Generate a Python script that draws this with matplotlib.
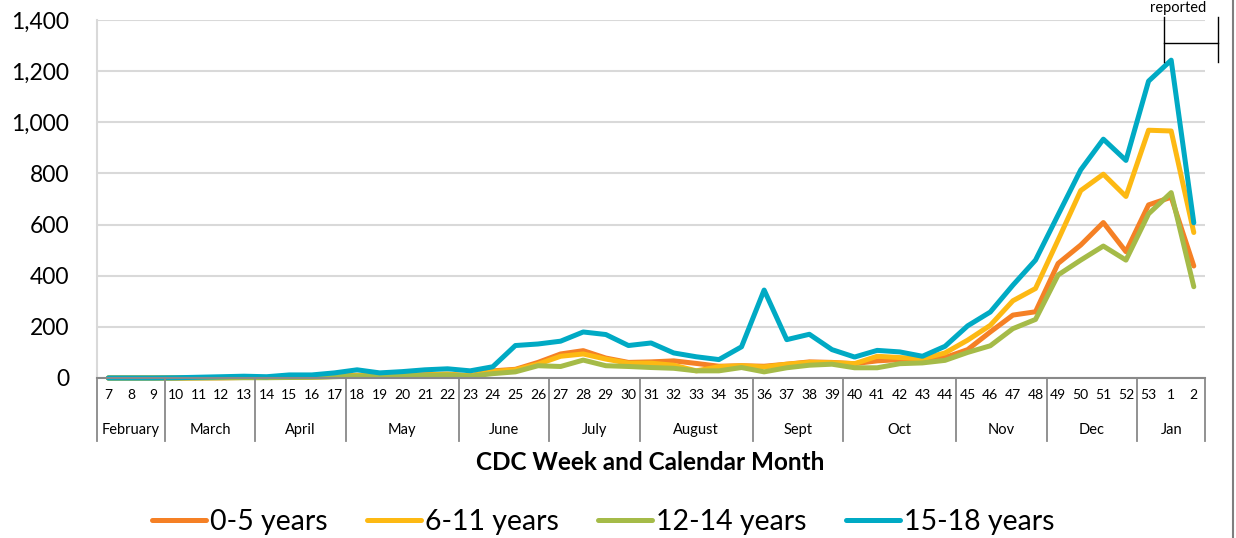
import matplotlib.pyplot as plt
from matplotlib.lines import Line2D
from matplotlib.ticker import FuncFormatter
import matplotlib.transforms as mtransforms

plt.rcParams['font.family'] = ['Lato', 'DejaVu Sans']

weeks = [str(w) for w in range(7, 54)] + ['1', '2']
months = ['February', 'March', 'April', 'May', 'June', 'July', 'August',
          'Sept', 'Oct', 'Nov', 'Dec', 'Jan']
month_len = [3, 4, 4, 5, 4, 4, 5, 4, 5, 4, 4, 3]

age_0_5 = [0, 0, 0, 0, 1, 1, 2, 2, 3, 4, 6, 11, 8, 10, 13, 15, 8, 28, 34, 61,
           94, 107, 78, 61, 63, 67, 57, 46, 48, 46, 54, 63, 61, 56, 67, 72, 75,
           80, 111, 180, 246, 259, 448, 520, 608, 494, 677, 707, 438]
age_6_11 = [0, 0, 0, 0, 1, 1, 2, 2, 3, 4, 6, 10, 8, 10, 12, 15, 8, 25, 32, 54,
            85, 94, 74, 58, 58, 50, 28, 44, 48, 43, 54, 61, 60, 56, 85, 80, 75,
            98, 148, 206, 302, 350, 540, 733, 797, 710, 969, 966, 569]
age_12_14 = [0, 0, 0, 0, 0, 1, 1, 1, 2, 3, 5, 8, 6, 8, 10, 12, 7, 17, 24, 48,
             45, 70, 48, 45, 41, 38, 28, 28, 41, 24, 40, 50, 54, 40, 40, 56, 59,
             69, 100, 126, 193, 229, 403, 461, 516, 461, 642, 725, 357]
age_15_18 = [0, 0, 0, 1, 3, 5, 7, 5, 12, 12, 20, 32, 20, 25, 32, 36, 28, 44, 127,
             133, 144, 180, 170, 127, 137, 98, 83, 72, 122, 344, 150, 171, 111,
             82, 108, 102, 85, 124, 204, 258, 363, 461, 638, 814, 934, 851, 1161,
             1243, 607]

series = [('0-5 years', age_0_5, '#F58025'),
          ('6-11 years', age_6_11, '#FDB913'),
          ('12-14 years', age_12_14, '#A5BB48'),
          ('15-18 years', age_15_18, '#00AAC4')]

fig = plt.figure(figsize=(12.36, 5.38), dpi=100)
ax = fig.add_axes([0.0785, 0.2974, 0.8965, 0.6654])

x = list(range(len(weeks)))
for name, vals, col in series:
    ax.plot(x, vals, color=col, lw=3.6, label=name,
            solid_joinstyle='round', solid_capstyle='round', clip_on=False)

ax.set_xlim(-0.5, len(weeks) - 0.5)
ax.set_ylim(0, 1400)
ax.set_yticks(range(0, 1401, 200))
ax.yaxis.set_major_formatter(FuncFormatter(lambda v, p: f'{int(v):,}'))
ax.tick_params(axis='y', length=0, pad=20, labelsize=16.5)
ax.grid(axis='y', color='#D9D9D9', lw=1.5)
ax.set_axisbelow(True)

ax.set_xticks(x)
ax.set_xticklabels(weeks, fontsize=10)
ax.tick_params(axis='x', length=0, pad=8)

for s in ['top', 'right']:
    ax.spines[s].set_visible(False)
ax.spines['left'].set_color('#D9D9D9')
ax.spines['left'].set_linewidth(1.5)
ax.spines['bottom'].set_color('#898989')
ax.spines['bottom'].set_linewidth(1.5)

# month groups under the week numbers
trans = mtransforms.blended_transform_factory(ax.transData, ax.transAxes)
start = 0
bounds = [-0.5]
for m, n in zip(months, month_len):
    ax.text(start + (n - 1) / 2, -0.145, m, transform=trans, ha='center',
            va='center', fontsize=10.5)
    start += n
    bounds.append(start - 0.5)
for b in bounds:
    ax.plot([b, b], [0, -0.176], transform=trans, color='#898989', lw=1.3,
            clip_on=False)

fig.text(0.526, 1 - 463 / 538, 'CDC Week and Calendar Month', ha='center',
         va='center', fontsize=17.5, fontweight='bold')

# "reported" bracket at top right
ax.plot([46.68, 46.68], [1236, 1412], color='black', lw=1, clip_on=False)
ax.plot([49.07, 49.07], [1236, 1412], color='black', lw=1, clip_on=False)
ax.plot([46.68, 49.07], [1310, 1310], color='black', lw=1, clip_on=False)
ax.text(47.3, 1447, 'reported', ha='center', va='center', fontsize=10.5)

fig.legend(loc='center', bbox_to_anchor=(0.488, 1 - 522 / 538), ncol=4,
           frameon=False, fontsize=20.5, handlelength=1.9, handletextpad=0.14,
           columnspacing=1.37)

fig.add_artist(Line2D([1233 / 1236, 1233 / 1236], [0, 1], color='#7F7F7F',
                      lw=1.5))

fig.savefig('out.png', dpi=100)
